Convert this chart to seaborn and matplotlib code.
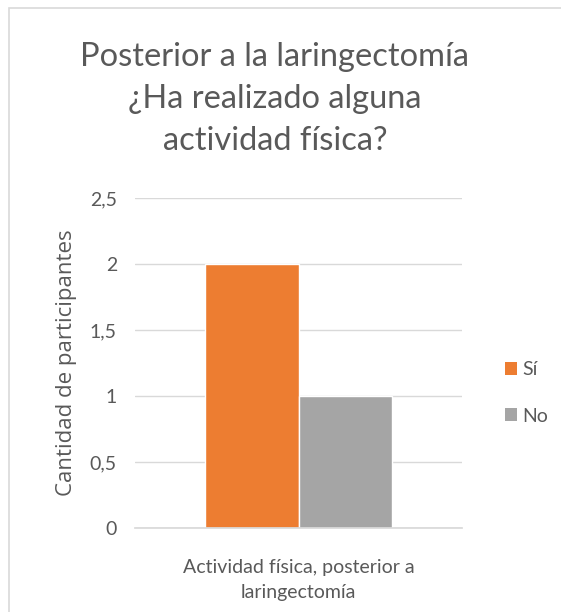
import matplotlib
matplotlib.use("Agg")
import matplotlib.pyplot as plt
import seaborn as sns
import pandas as pd
from matplotlib.patches import Rectangle, Patch
from matplotlib.ticker import FuncFormatter

categories = ["Actividad física, posterior a\nlaringectomía"]
responses = ["Sí", "No"]
values = [2, 1]
colors = ["#ED7D31", "#A5A5A5"]

df = pd.DataFrame({"cat": categories * len(responses), "resp": responses, "val": values})

sns.set_theme(style="white")
plt.rcParams["font.family"] = ["Lato", "DejaVu Sans"]
txt = "#595959"

fig = plt.figure(figsize=(5.61, 6.12), dpi=100)
ax = fig.add_axes([135/561, 1-528/612, (462-135)/561, (528-198)/612])
sns.barplot(data=df, x="cat", y="val", hue="resp", palette=colors, width=0.57,
            gap=0, saturation=1, ax=ax, legend=False)

ax.set_ylim(0, 2.5)
ax.set_xlim(-0.5, 0.5)
ax.set_yticks([0, 0.5, 1, 1.5, 2, 2.5])
ax.yaxis.set_major_formatter(FuncFormatter(lambda v, p: (f"{v:g}").replace(".", ",")))
ax.grid(axis="y", color="#D9D9D9", linewidth=1)
ax.set_axisbelow(True)
for s in ax.spines.values():
    s.set_visible(False)
ax.spines["bottom"].set_visible(True)
ax.spines["bottom"].set_color("#D9D9D9")
ax.tick_params(axis="both", length=0, labelsize=14, labelcolor=txt)
ax.tick_params(axis="y", pad=13)
ax.tick_params(axis="x", pad=22)
for lab in ax.get_xticklabels():
    lab.set_linespacing(1.6)
ax.set_xlabel("")
ax.set_ylabel("Cantidad de participantes", fontsize=16, color=txt, labelpad=9,
              family=["Open Sans", "DejaVu Sans"])

fig.text(275/561, 1-99/612, "Posterior a la laringectomía\n¿Ha realizado alguna\nactividad física?",
         ha="center", va="center", fontsize=23.5, color=txt, linespacing=1.5)

handles = [Patch(facecolor=c, edgecolor="none") for c in colors]
fig.legend(handles, responses, loc="center left", bbox_to_anchor=(487/561, 1-393/612),
           frameon=False, fontsize=14, labelcolor=txt, handlelength=0.65, handleheight=0.65,
           handletextpad=0.25, labelspacing=1.5)

fig.patches.append(Rectangle((9/561, -0.1), 1.2, 1.1-8/612, transform=fig.transFigure,
                             facecolor="none", edgecolor="#D9D9D9", linewidth=1.2))

fig.savefig("out.png", dpi=100)
